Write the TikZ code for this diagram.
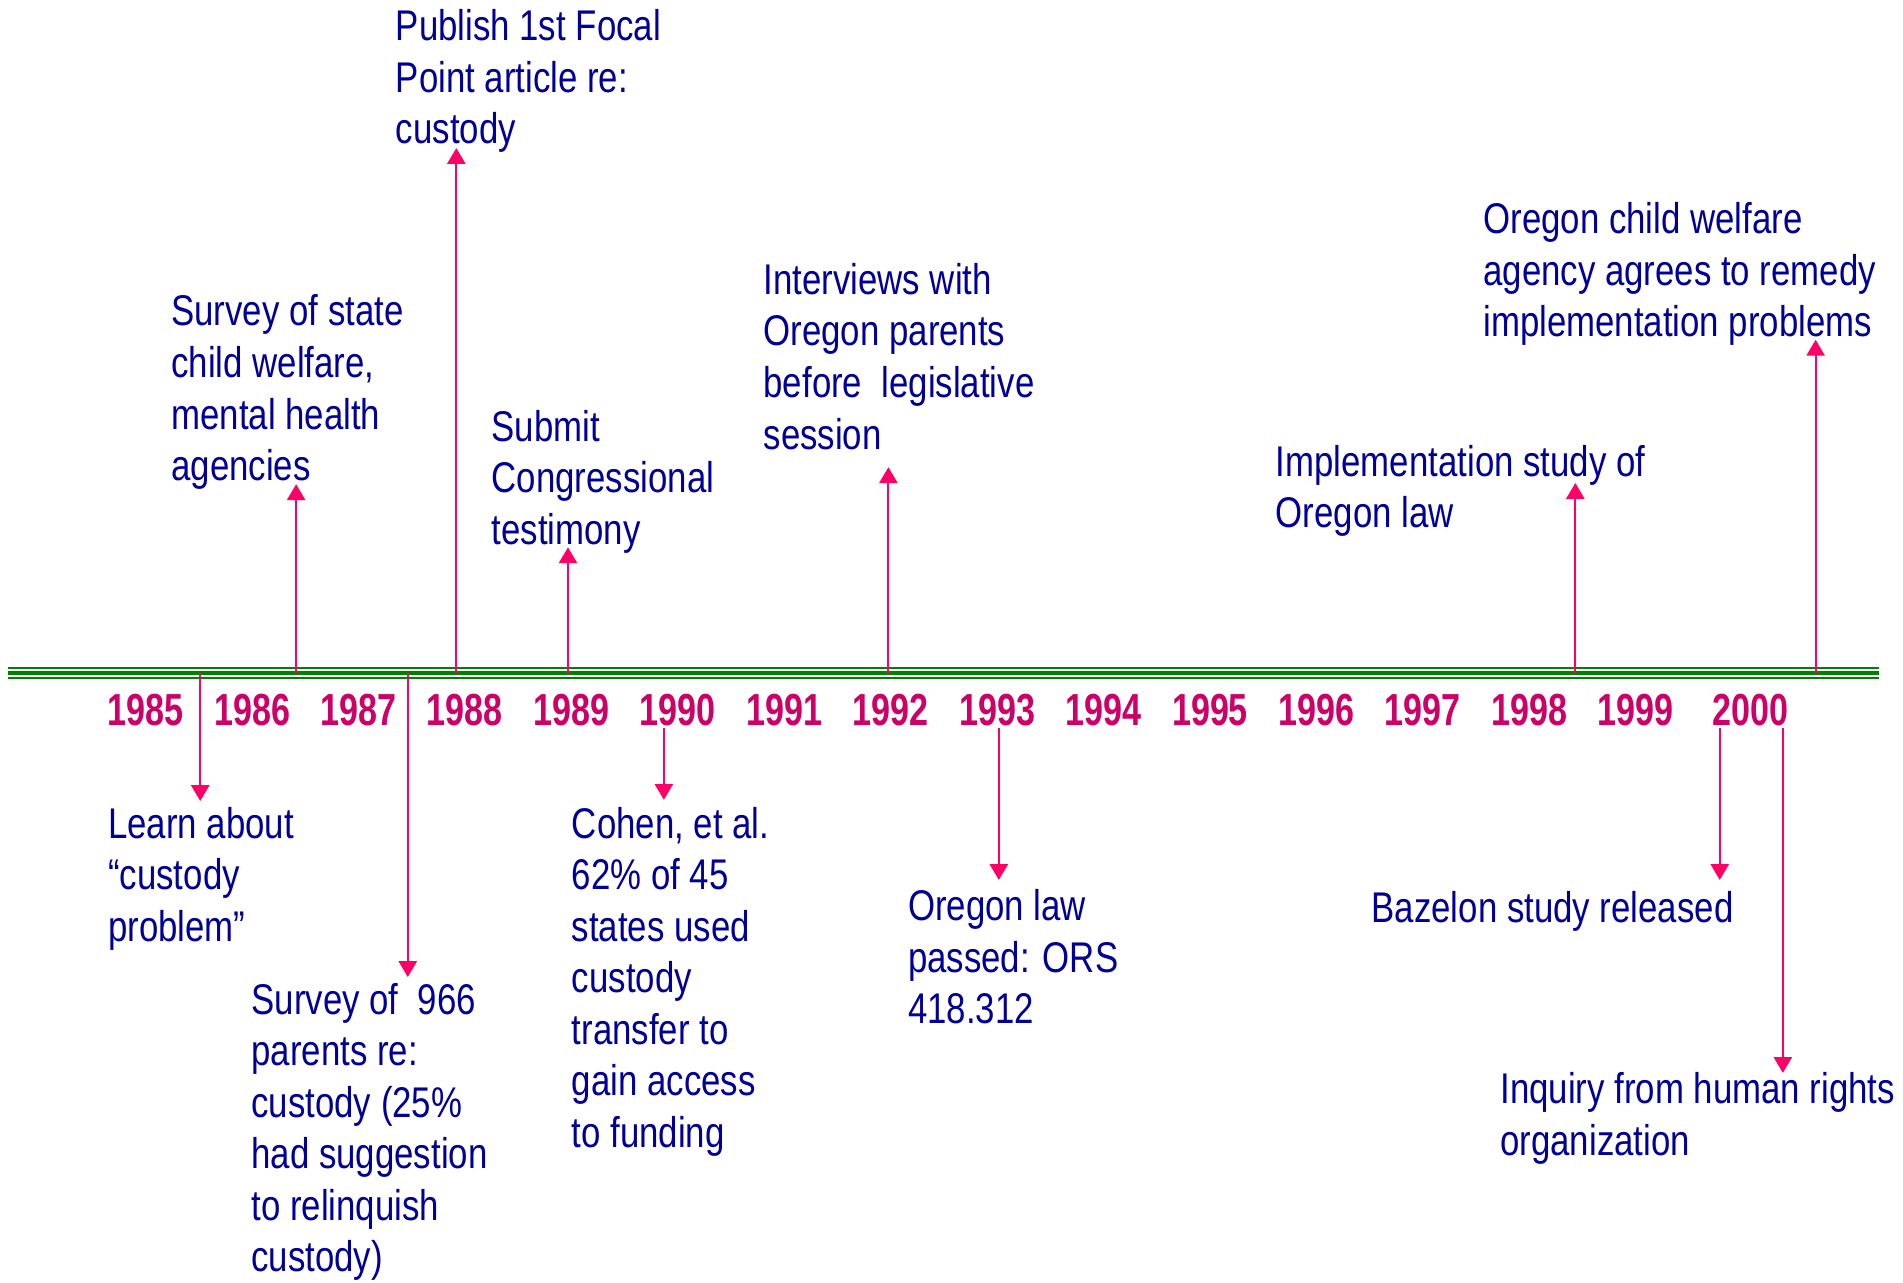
\documentclass[tikz,border=0pt]{standalone}
\usepackage{fontspec}
\setmainfont[FakeStretch=0.81]{Liberation Sans}
\newfontfamily\yearfont[FakeStretch=0.76]{Liberation Sans}
\usetikzlibrary{arrows.meta}
\definecolor{txtblue}{RGB}{0,0,153}
\definecolor{yearred}{RGB}{204,0,102}
\definecolor{arrpink}{RGB}{255,0,102}
\definecolor{lgreen}{RGB}{0,128,0}
\tikzset{
  evtext/.style={anchor=base west, inner sep=0pt, align=left, text=txtblue,
    font=\fontsize{35.4}{42.5}\selectfont},
  yeartext/.style={anchor=base, inner sep=0pt, text=yearred,
    font=\yearfont\bfseries\fontsize{37}{44}\selectfont},
  evarrow/.style={draw=arrpink, line width=1.5pt, -{Triangle[width=15pt,length=13pt]}, fill=arrpink},
}
\begin{document}
\begin{tikzpicture}[x=1pt,y=-1pt]
\useasboundingbox (0,0) rectangle (1568,1057);
% timeline
\coordinate (tlL) at (7,554.5);
\coordinate (tlR) at (1548,554.5);
\draw[lgreen, line width=1.6pt] ([yshift=-4.3pt]tlL) -- ([yshift=-4.3pt]tlR);
\draw[lgreen, line width=3pt] (tlL) -- (tlR);
\draw[lgreen, line width=1.6pt] ([yshift=4.3pt]tlL) -- ([yshift=4.3pt]tlR);
% years
\foreach \yr [count=\i from 0] in {1985,1986,1987,1988,1989,1990,1991,1992,1993,1994,1995,1996,1997,1998,1999} {
  \node[yeartext] (y\yr) at ({120+87.7*\i},598) {\yr};
}
\node[yeartext] (y2000) at (1442,598) {2000};
% upper events (anchor = baseline of last line)
\node[evtext] (survey) at (141,396) {Survey of state\\child welfare,\\mental health\\agencies};
\node[evtext] (publish) at (326,118.5) {Publish 1st Focal\\Point article re:\\custody};
\node[evtext] (submit) at (405,448.5) {Submit\\Congressional\\testimony};
\node[evtext] (interv) at (629,370) {Interviews with\\Oregon parents\\before\ \ legislative\\session};
\node[evtext] (implst) at (1051,435) {Implementation study of\\Oregon law};
\node[evtext] (agency) at (1222,277.5) {Oregon child welfare\\agency agrees to remedy\\implementation problems};
% lower events
\node[evtext] (learn) at (89,775.5) {Learn about\\“custody\\problem”};
\node[evtext] (sur966) at (207,1048) {Survey of\ \ 966\\parents re:\\custody (25\%\\had suggestion\\to relinquish\\custody)};
\node[evtext] (cohen) at (471,945.5) {Cohen, et al.\\62\% of 45\\states used\\custody\\transfer to\\gain access\\to funding};
\node[evtext] (orlaw) at (748,843.5) {Oregon law\\passed: ORS\\418.312};
\node[evtext] (bazel) at (1130,760.5) {Bazelon study released};
\node[evtext] (inqui) at (1236,952) {Inquiry from human rights\\organization};
% arrow anchors
\coordinate (a1s) at (244,554.5);  \coordinate (a1e) at (244,399);
\coordinate (a2s) at (376,554.5);  \coordinate (a2e) at (376,122);
\coordinate (a3s) at (468,554.5);  \coordinate (a3e) at (468,451);
\coordinate (a4s) at (732,554.5);  \coordinate (a4e) at (732,385);
\coordinate (a5s) at (1298,554.5); \coordinate (a5e) at (1298,398);
\coordinate (a6s) at (1496,554.5); \coordinate (a6e) at (1496,280);
\coordinate (b1s) at (165,554.5);  \coordinate (b1e) at (165,660);
\coordinate (b2s) at (336,554.5);  \coordinate (b2e) at (336,805);
\coordinate (b3s) at (547,600);    \coordinate (b3e) at (547,659);
\coordinate (b4s) at (823,600);    \coordinate (b4e) at (823,725);
\coordinate (b5s) at (1417,600);   \coordinate (b5e) at (1417,725);
\coordinate (b6s) at (1469,600);   \coordinate (b6e) at (1469,884);
\foreach \n in {a1,a2,a3,a4,a5,a6,b1,b2,b3,b4,b5,b6} {
  \draw[evarrow] (\n s) -- (\n e);
}
\end{tikzpicture}
\end{document}
